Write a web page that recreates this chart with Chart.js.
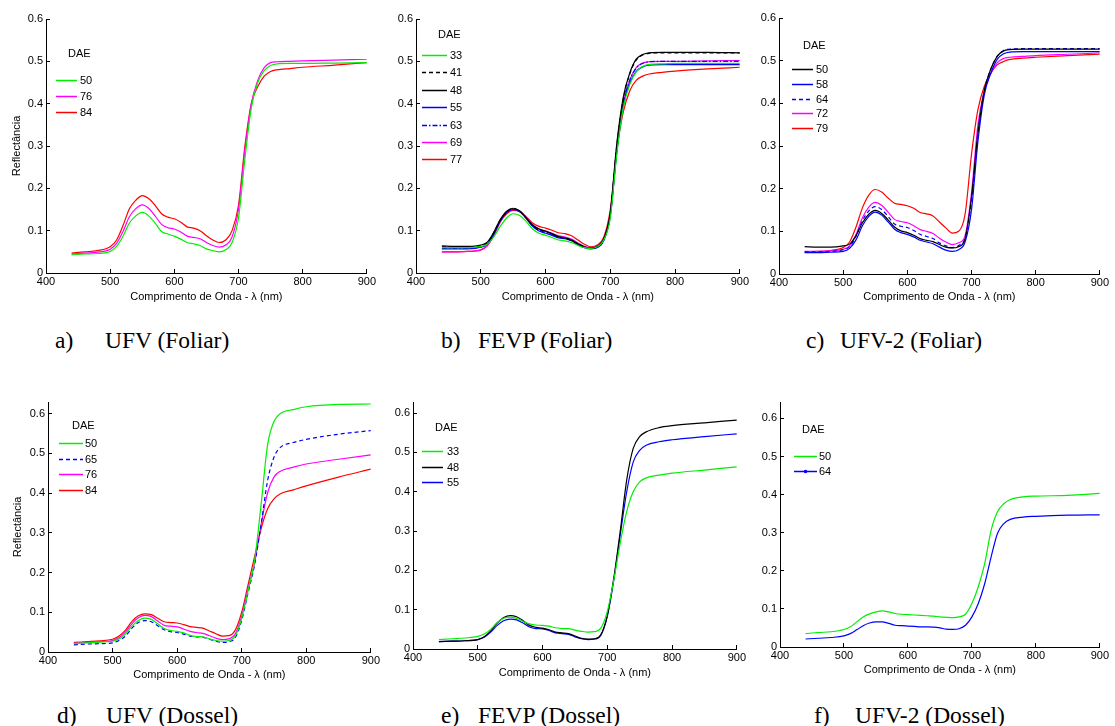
<!DOCTYPE html>
<html>
<head>
<meta charset="utf-8">
<script src="https://cdn.jsdelivr.net/npm/chart.js@4.4.1/dist/chart.umd.min.js"></script>
<style>
  html, body { margin: 0; padding: 0; background: #fff; }
  #page { position: relative; width: 1115px; height: 726px; overflow: hidden; }
  .cap { position: absolute; font-family: "Liberation Serif", "Times New Roman", serif; font-size: 23.5px; line-height: 23px; color: #000; white-space: nowrap; }
</style>
</head>
<body>
<div id="page"></div>
<script>
// wavelength grid (nm) shared by every curve
const wavelengths = [440, 460, 480, 500, 510, 520, 530, 540, 550, 560, 570, 580, 590, 600, 610, 620, 630, 640, 650, 660, 670, 680, 690, 700, 710, 720, 730, 740, 750, 760, 780, 800, 850, 900];

// a) UFV (Foliar)
const ufvFol50 = [0.043, 0.045, 0.046, 0.051, 0.063, 0.087, 0.118, 0.135, 0.143, 0.135, 0.118, 0.098, 0.092, 0.087, 0.080, 0.072, 0.069, 0.065, 0.057, 0.053, 0.050, 0.055, 0.072, 0.130, 0.270, 0.390, 0.450, 0.478, 0.490, 0.494, 0.495, 0.495, 0.496, 0.497];
const ufvFol76 = [0.045, 0.047, 0.049, 0.056, 0.070, 0.098, 0.133, 0.152, 0.161, 0.153, 0.135, 0.115, 0.107, 0.104, 0.097, 0.087, 0.084, 0.081, 0.072, 0.065, 0.061, 0.066, 0.085, 0.150, 0.290, 0.400, 0.455, 0.485, 0.497, 0.499, 0.500, 0.501, 0.503, 0.505];
const ufvFol84 = [0.047, 0.050, 0.053, 0.062, 0.078, 0.112, 0.152, 0.172, 0.183, 0.176, 0.160, 0.140, 0.132, 0.128, 0.120, 0.109, 0.106, 0.100, 0.088, 0.078, 0.072, 0.078, 0.100, 0.160, 0.300, 0.400, 0.440, 0.465, 0.476, 0.480, 0.483, 0.486, 0.491, 0.497];

// b) FEVP (Foliar)
const fevpFol33 = [0.060, 0.060, 0.060, 0.063, 0.068, 0.085, 0.110, 0.130, 0.140, 0.136, 0.122, 0.104, 0.094, 0.089, 0.084, 0.078, 0.076, 0.072, 0.065, 0.060, 0.058, 0.062, 0.078, 0.130, 0.280, 0.390, 0.445, 0.475, 0.488, 0.493, 0.494, 0.495, 0.495, 0.495];
const fevpFol41 = [0.062, 0.061, 0.061, 0.065, 0.072, 0.095, 0.125, 0.145, 0.152, 0.146, 0.130, 0.112, 0.103, 0.098, 0.092, 0.085, 0.082, 0.077, 0.068, 0.061, 0.058, 0.062, 0.080, 0.140, 0.300, 0.410, 0.470, 0.503, 0.515, 0.519, 0.520, 0.520, 0.520, 0.520];
const fevpFol48 = [0.064, 0.063, 0.063, 0.066, 0.073, 0.096, 0.126, 0.146, 0.153, 0.147, 0.131, 0.113, 0.104, 0.099, 0.093, 0.086, 0.083, 0.078, 0.069, 0.062, 0.059, 0.063, 0.081, 0.142, 0.305, 0.415, 0.472, 0.505, 0.516, 0.520, 0.521, 0.521, 0.521, 0.520];
const fevpFol55 = [0.057, 0.057, 0.057, 0.061, 0.068, 0.091, 0.123, 0.143, 0.150, 0.145, 0.129, 0.110, 0.099, 0.094, 0.089, 0.083, 0.081, 0.076, 0.067, 0.060, 0.057, 0.060, 0.077, 0.135, 0.285, 0.395, 0.448, 0.476, 0.487, 0.491, 0.492, 0.492, 0.492, 0.492];
const fevpFol63 = [0.058, 0.058, 0.058, 0.062, 0.069, 0.092, 0.124, 0.144, 0.151, 0.146, 0.130, 0.112, 0.101, 0.096, 0.091, 0.085, 0.083, 0.078, 0.069, 0.061, 0.058, 0.061, 0.078, 0.137, 0.290, 0.400, 0.455, 0.484, 0.495, 0.499, 0.500, 0.500, 0.500, 0.500];
const fevpFol69 = [0.050, 0.050, 0.051, 0.055, 0.065, 0.090, 0.122, 0.142, 0.150, 0.146, 0.132, 0.115, 0.104, 0.099, 0.094, 0.088, 0.085, 0.080, 0.071, 0.063, 0.060, 0.063, 0.080, 0.140, 0.290, 0.400, 0.455, 0.485, 0.496, 0.499, 0.500, 0.500, 0.501, 0.502];
const fevpFol77 = [0.050, 0.050, 0.051, 0.054, 0.064, 0.088, 0.120, 0.140, 0.148, 0.145, 0.133, 0.118, 0.110, 0.106, 0.101, 0.095, 0.093, 0.088, 0.078, 0.068, 0.062, 0.066, 0.085, 0.150, 0.290, 0.380, 0.430, 0.455, 0.465, 0.470, 0.474, 0.477, 0.482, 0.486];

// c) UFV-2 (Foliar)
const ufv2Fol50 = [0.064, 0.063, 0.063, 0.066, 0.070, 0.090, 0.120, 0.140, 0.149, 0.142, 0.127, 0.110, 0.101, 0.097, 0.091, 0.083, 0.079, 0.076, 0.069, 0.063, 0.061, 0.064, 0.082, 0.180, 0.330, 0.430, 0.480, 0.510, 0.523, 0.526, 0.527, 0.527, 0.527, 0.527];
const ufv2Fol58 = [0.050, 0.050, 0.051, 0.053, 0.060, 0.080, 0.113, 0.135, 0.145, 0.138, 0.122, 0.105, 0.097, 0.093, 0.087, 0.079, 0.075, 0.071, 0.063, 0.056, 0.053, 0.057, 0.075, 0.150, 0.310, 0.420, 0.470, 0.503, 0.516, 0.520, 0.521, 0.521, 0.521, 0.521];
const ufv2Fol64 = [0.052, 0.052, 0.053, 0.057, 0.064, 0.088, 0.125, 0.148, 0.158, 0.151, 0.135, 0.117, 0.112, 0.109, 0.102, 0.093, 0.088, 0.083, 0.073, 0.066, 0.062, 0.067, 0.085, 0.170, 0.330, 0.430, 0.480, 0.510, 0.524, 0.527, 0.528, 0.528, 0.528, 0.528];
const ufv2Fol72 = [0.053, 0.053, 0.054, 0.058, 0.066, 0.092, 0.132, 0.157, 0.168, 0.161, 0.145, 0.128, 0.123, 0.120, 0.113, 0.104, 0.100, 0.095, 0.084, 0.075, 0.069, 0.073, 0.090, 0.190, 0.350, 0.430, 0.470, 0.495, 0.505, 0.508, 0.510, 0.512, 0.515, 0.518];
const ufv2Fol79 = [0.052, 0.053, 0.055, 0.062, 0.075, 0.110, 0.155, 0.185, 0.198, 0.192, 0.178, 0.166, 0.163, 0.160, 0.154, 0.144, 0.141, 0.136, 0.122, 0.108, 0.096, 0.100, 0.140, 0.280, 0.385, 0.440, 0.470, 0.490, 0.498, 0.503, 0.506, 0.508, 0.512, 0.515];

// d) UFV (Dossel)
const ufvDos50 = [0.021, 0.023, 0.025, 0.027, 0.033, 0.045, 0.065, 0.079, 0.085, 0.082, 0.071, 0.059, 0.054, 0.052, 0.048, 0.042, 0.039, 0.038, 0.033, 0.029, 0.027, 0.029, 0.040, 0.085, 0.155, 0.230, 0.370, 0.520, 0.580, 0.600, 0.610, 0.617, 0.623, 0.624];
const ufvDos65 = [0.018, 0.020, 0.021, 0.023, 0.029, 0.040, 0.060, 0.074, 0.079, 0.076, 0.066, 0.056, 0.051, 0.049, 0.045, 0.040, 0.038, 0.037, 0.032, 0.027, 0.024, 0.026, 0.036, 0.080, 0.150, 0.220, 0.320, 0.430, 0.490, 0.515, 0.527, 0.535, 0.548, 0.557];
const ufvDos76 = [0.022, 0.024, 0.026, 0.029, 0.036, 0.050, 0.071, 0.086, 0.092, 0.089, 0.078, 0.067, 0.065, 0.063, 0.058, 0.052, 0.049, 0.047, 0.041, 0.035, 0.031, 0.033, 0.045, 0.090, 0.160, 0.225, 0.320, 0.400, 0.440, 0.455, 0.465, 0.473, 0.485, 0.496];
const ufvDos84 = [0.024, 0.026, 0.028, 0.032, 0.040, 0.055, 0.077, 0.091, 0.096, 0.094, 0.085, 0.076, 0.074, 0.073, 0.069, 0.064, 0.062, 0.060, 0.053, 0.046, 0.040, 0.041, 0.055, 0.100, 0.170, 0.240, 0.310, 0.360, 0.385, 0.398, 0.408, 0.418, 0.440, 0.460];

// e) FEVP (Dossel)
const fevpDos33 = [0.024, 0.026, 0.028, 0.032, 0.038, 0.050, 0.067, 0.078, 0.081, 0.078, 0.070, 0.064, 0.061, 0.060, 0.058, 0.054, 0.052, 0.052, 0.048, 0.045, 0.043, 0.044, 0.053, 0.095, 0.175, 0.270, 0.350, 0.400, 0.425, 0.435, 0.442, 0.447, 0.455, 0.463];
const fevpDos48 = [0.019, 0.020, 0.021, 0.024, 0.031, 0.046, 0.066, 0.080, 0.085, 0.082, 0.072, 0.060, 0.055, 0.053, 0.049, 0.043, 0.041, 0.039, 0.033, 0.027, 0.025, 0.026, 0.036, 0.085, 0.180, 0.300, 0.430, 0.510, 0.540, 0.552, 0.563, 0.568, 0.575, 0.582];
const fevpDos55 = [0.019, 0.020, 0.021, 0.024, 0.030, 0.043, 0.060, 0.072, 0.076, 0.074, 0.066, 0.056, 0.052, 0.051, 0.047, 0.041, 0.039, 0.037, 0.031, 0.026, 0.024, 0.025, 0.035, 0.083, 0.175, 0.290, 0.400, 0.475, 0.505, 0.518, 0.527, 0.532, 0.540, 0.547];

// f) UFV-2 (Dossel)
const ufv2Dos50 = [0.035, 0.038, 0.040, 0.046, 0.053, 0.066, 0.079, 0.087, 0.092, 0.095, 0.092, 0.088, 0.086, 0.085, 0.084, 0.083, 0.082, 0.081, 0.079, 0.078, 0.077, 0.079, 0.086, 0.114, 0.158, 0.219, 0.306, 0.355, 0.376, 0.387, 0.394, 0.396, 0.398, 0.403];
const ufv2Dos64 = [0.021, 0.023, 0.025, 0.029, 0.035, 0.045, 0.056, 0.063, 0.066, 0.066, 0.062, 0.057, 0.056, 0.055, 0.054, 0.053, 0.053, 0.052, 0.050, 0.047, 0.046, 0.048, 0.057, 0.079, 0.114, 0.166, 0.236, 0.298, 0.324, 0.335, 0.341, 0.343, 0.346, 0.347];

const yTicks = [0, 0.1, 0.2, 0.3, 0.4, 0.5, 0.6];
const xTicks = [400, 500, 600, 700, 800, 900];

const GREEN = '#00ee00', BLUE = '#0000ff', RED = '#ff0000', MAG = '#ff00ff', BLACK = '#000000';
const FONT = '"Liberation Sans", Arial, sans-serif';

// draws the "DAE" legend inside the plot, like the MATLAB one
const insideLegend = {
  id: 'insideLegend',
  afterDraw(chart, args, o) {
    const { ctx, chartArea: a } = chart;
    ctx.save();
    ctx.font = '11px ' + FONT;
    ctx.textBaseline = 'middle';
    ctx.textAlign = 'left';
    ctx.fillStyle = '#000';
    ctx.fillText('DAE', a.left + o.titleX, a.top + o.titleY);
    chart.data.datasets.forEach((ds, i) => {
      const y = Math.round(a.top + o.firstY + i * o.gap) + 0.5;
      ctx.strokeStyle = ds.borderColor;
      ctx.lineWidth = 1.5;
      ctx.setLineDash(ds.borderDash || []);
      ctx.beginPath();
      ctx.moveTo(a.left + o.line[0], y);
      ctx.lineTo(a.left + o.line[1], y);
      ctx.stroke();
      ctx.setLineDash([]);
      if (ds.legendDot) {
        ctx.fillStyle = ds.borderColor;
        ctx.beginPath();
        ctx.arc(a.left + (o.line[0] + o.line[1]) / 2, y, 1.8, 0, Math.PI * 2);
        ctx.fill();
      }
      ctx.fillStyle = '#000';
      ctx.fillText(ds.label, a.left + o.textX, y);
    });
    ctx.restore();
  }
};

function series(label, data, color, dash, dot) {
  return { label: label, data: data, color: color, dash: dash || [], dot: !!dot };
}

// box: canvas left, top, width, height; plot: chart area left, top, right, bottom
const panels = [
  { box: [10, 0, 372, 304], plot: [46, 19, 368, 273], yMax: 0.6, yTitle: true,
    legend: { titleX: 22, titleY: 35, line: [10, 31], textX: 34, firstY: 61, gap: 16 },
    series: [series('50', ufvFol50, GREEN), series('76', ufvFol76, MAG), series('84', ufvFol84, RED)] },
  { box: [390, 0, 365, 304], plot: [416, 19, 741, 273], yMax: 0.6, yTitle: false,
    legend: { titleX: 22, titleY: 16, line: [6, 31], textX: 34, firstY: 36, gap: 17.4 },
    series: [series('33', fevpFol33, GREEN), series('41', fevpFol41, BLACK, [4, 3]), series('48', fevpFol48, BLACK),
             series('55', fevpFol55, BLUE), series('63', fevpFol63, BLUE, [5, 2, 1.5, 2]), series('69', fevpFol69, MAG),
             series('77', fevpFol77, RED)] },
  { box: [752, 0, 363, 304], plot: [779, 18, 1103, 274], yMax: 0.6, yTitle: false,
    legend: { titleX: 24, titleY: 28, line: [13, 34], textX: 37, firstY: 51, gap: 14.8 },
    series: [series('50', ufv2Fol50, BLACK), series('58', ufv2Fol58, BLUE), series('64', ufv2Fol64, BLUE, [4, 3]),
             series('72', ufv2Fol72, MAG), series('79', ufv2Fol79, RED)] },
  { box: [11, 380, 375, 302], plot: [48, 402, 374, 652], yMax: 0.629, yTitle: true,
    legend: { titleX: 24, titleY: 24, line: [11, 35], textX: 37, firstY: 41, gap: 15.7 },
    series: [series('50', ufvDos50, GREEN), series('65', ufvDos65, BLUE, [4, 3]), series('76', ufvDos76, MAG),
             series('84', ufvDos84, RED)] },
  { box: [387, 380, 365, 300], plot: [413, 402, 738, 649], yMax: 0.628, yTitle: false,
    legend: { titleX: 22, titleY: 26, line: [9, 30], textX: 34, firstY: 49, gap: 15.5 },
    series: [series('33', fevpDos33, GREEN), series('48', fevpDos48, BLACK), series('55', fevpDos55, BLUE)] },
  { box: [752, 380, 363, 297], plot: [780, 402, 1103, 647], yMax: 0.643, yTitle: false,
    legend: { titleX: 22, titleY: 28, line: [14, 37], textX: 39, firstY: 54, gap: 15 },
    series: [series('50', ufv2Dos50, GREEN), series('64', ufv2Dos64, BLUE, null, true)] }
];

const captions = [
  ['a)', 55, 'UFV (Foliar)', 105, 329],
  ['b)', 441, 'FEVP (Foliar)', 478, 329],
  ['c)', 806, 'UFV-2 (Foliar)', 840, 329],
  ['d)', 57, 'UFV (Dossel)', 106, 704],
  ['e)', 441, 'FEVP (Dossel)', 478, 704],
  ['f)', 814, 'UFV-2 (Dossel)', 855, 704]
];

Chart.defaults.font.family = FONT;
Chart.defaults.color = '#000';

function makeChart(p) {
  const page = document.getElementById('page');
  const cv = document.createElement('canvas');
  const [bl, bt, bw, bh] = p.box;
  const [pl, pt, pr, pb] = p.plot;
  cv.width = bw; cv.height = bh;
  cv.style.cssText = `position:absolute;left:${bl}px;top:${bt}px;width:${bw}px;height:${bh}px;`;
  page.appendChild(cv);

  const datasets = p.series.map(s => ({
    label: s.label,
    data: wavelengths.map((w, i) => ({ x: w, y: s.data[i] })),
    borderColor: s.color,
    borderWidth: 1.2,
    borderDash: s.dash,
    legendDot: s.dot,
    pointRadius: 0,
    fill: false,
    tension: 0.4,
    cubicInterpolationMode: 'monotone'
  }));

  new Chart(cv, {
    type: 'line',
    data: { datasets: datasets },
    options: {
      responsive: false,
      animation: false,
      devicePixelRatio: 1,
      layout: { padding: { left: 0, top: pt - bt, right: bl + bw - pr, bottom: 0 } },
      plugins: {
        legend: { display: false },
        tooltip: { enabled: false },
        insideLegend: p.legend
      },
      scales: {
        x: {
          type: 'linear', min: 400, max: 900,
          afterBuildTicks: s => { s.ticks = xTicks.map(v => ({ value: v })); },
          afterFit: s => { s.height = bt + bh - pb; },
          ticks: { font: { size: 11 }, padding: 6, maxRotation: 0 },
          grid: { drawOnChartArea: false, tickLength: -4, color: '#000' },
          border: { color: '#000', width: 1 },
          title: { display: true, text: 'Comprimento de Onda - λ (nm)', font: { size: 11 }, padding: 0 }
        },
        y: {
          type: 'linear', min: 0, max: p.yMax,
          afterBuildTicks: s => { s.ticks = yTicks.map(v => ({ value: v })); },
          afterFit: s => { s.width = pl - bl; },
          ticks: { font: { size: 11 }, padding: 7, callback: v => String(+v.toFixed(1)) },
          grid: { drawOnChartArea: false, tickLength: -4, color: '#000' },
          border: { color: '#000', width: 1 },
          title: { display: p.yTitle, text: 'Reflectância', font: { size: 11 }, padding: 0 }
        }
      }
    },
    plugins: [insideLegend]
  });
}

panels.forEach(makeChart);

captions.forEach(c => {
  const page = document.getElementById('page');
  const a = document.createElement('div');
  a.className = 'cap'; a.textContent = c[0];
  a.style.left = c[1] + 'px'; a.style.top = c[4] + 'px';
  const b = document.createElement('div');
  b.className = 'cap'; b.textContent = c[2];
  b.style.left = c[3] + 'px'; b.style.top = c[4] + 'px';
  page.appendChild(a); page.appendChild(b);
});
</script>
</body>
</html>
